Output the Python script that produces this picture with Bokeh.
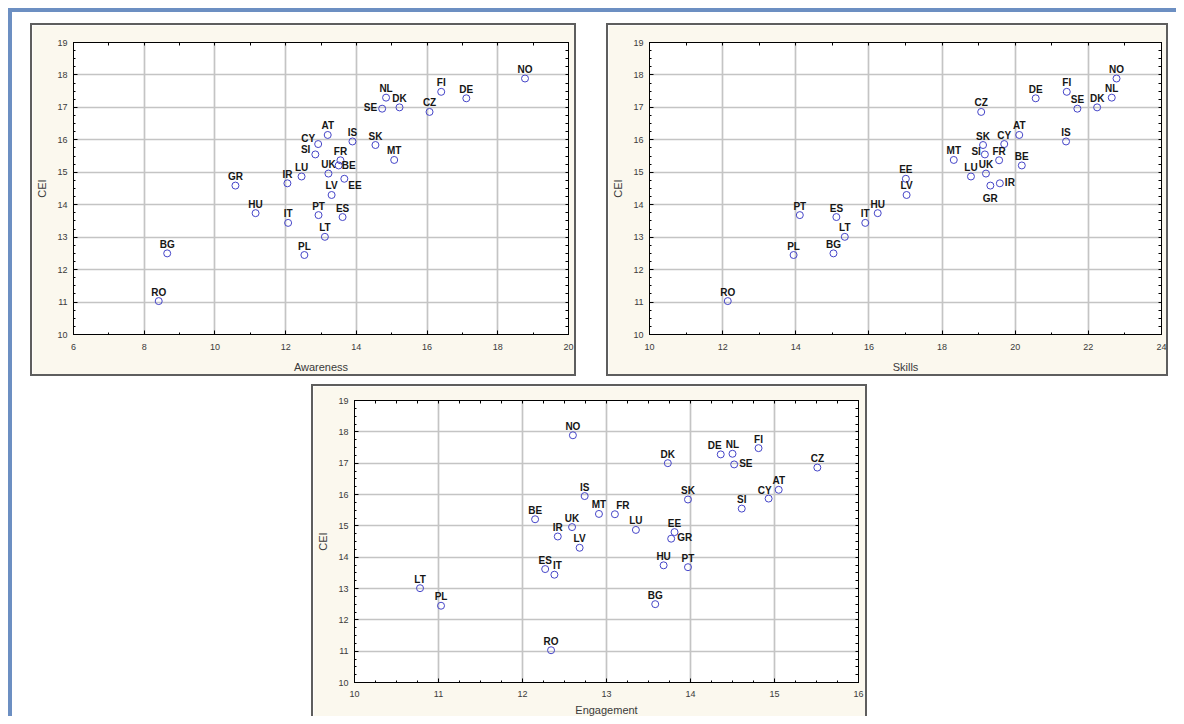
import numpy as np
from bokeh.plotting import figure
from bokeh.models import (ColumnDataSource, LinearAxis, SingleIntervalTicker, FixedTicker,
                          Range1d, Grid)
from bokeh.layouts import row, column
from bokeh.embed import file_html
from bokeh.resources import INLINE
from bokeh.core.properties import value

# ---------------- data ----------------
countries = ["NO", "FI", "DE", "NL", "DK", "SE", "CZ", "AT", "IS", "CY", "SK", "SI", "FR", "MT", "BE",
             "LU", "UK", "EE", "IR", "GR", "LV", "HU", "PT", "ES", "IT", "LT", "PL", "BG", "RO"]
cei = [17.89, 17.48, 17.28, 17.30, 17.00, 16.96, 16.86, 16.15, 15.95, 15.87, 15.84, 15.55, 15.37, 15.38, 15.21,
       14.87, 14.96, 14.80, 14.66, 14.59, 14.30, 13.74, 13.68, 13.62, 13.44, 13.01, 12.45, 12.50, 11.03]
awareness = [18.77, 16.40, 17.11, 14.84, 15.22, 14.73, 16.07, 13.19, 13.89, 12.92, 14.54, 12.84, 13.55, 15.07, 13.50,
             12.45, 13.21, 13.66, 12.05, 10.58, 13.30, 11.15, 12.93, 13.61, 12.07, 13.11, 12.53, 8.65, 8.41]
skills = [22.77, 21.41, 20.56, 22.64, 22.24, 21.70, 19.07, 20.11, 21.39, 19.70, 19.12, 19.17, 19.56, 18.32, 20.18,
          18.79, 19.20, 17.01, 19.58, 19.32, 17.03, 16.24, 14.11, 15.11, 15.90, 15.34, 13.94, 15.03, 12.14]
engagement = [12.60, 14.81, 14.36, 14.50, 13.73, 14.52, 15.51, 15.05, 12.74, 14.93, 13.97, 14.61, 13.10, 12.91, 12.15,
              13.35, 12.59, 13.81, 12.42, 13.77, 12.68, 13.68, 13.97, 12.27, 12.38, 10.78, 11.03, 13.58, 12.34]
y_label = "CEI"

# ---------------- label placement (style) ----------------
DEFAULT = ("center", "middle", 0, -9)
aw_place = {"SE": ("right", "middle", -5, -1), "CY": ("right", "middle", -3, -6),
            "SI": ("right", "middle", -5, -5), "BE": ("left", "middle", 3, 0),
            "EE": ("left", "middle", 4, 7)}
sk_place = {"SI": ("right", "middle", -4, -3), "IR": ("left", "middle", 5, -1),
            "GR": ("center", "middle", 0, 13)}
en_place = {"DE": ("center", "middle", -6, -9), "SE": ("left", "middle", 5, -1),
            "CY": ("center", "middle", -4, -8), "FR": ("center", "middle", 8, -9),
            "GR": ("left", "middle", 6, -1), "IT": ("center", "middle", 3, -9)}

BEIGE = "#fbf8ee"
FONT = "Liberation Sans"
TICK_COLOR = "#3a3a3a"


def make_panel(xvals, xname, xr, x_int, x_minor, place, w, h, mb, styles, xstand, xlab_stand):
    p = figure(width=w, height=h, output_backend="svg", toolbar_location=None,
               x_range=Range1d(*xr), y_range=Range1d(10, 19),
               x_axis_type=None, y_axis_type=None,
               min_border_left=mb[0], min_border_top=mb[1],
               min_border_right=mb[2], min_border_bottom=mb[3])
    p.background_fill_color = "white"
    p.border_fill_color = BEIGE
    p.outline_line_color = "black"
    p.outline_line_width = 1
    p.styles = styles

    xt = SingleIntervalTicker(interval=x_int, num_minor_ticks=x_minor)
    yt = SingleIntervalTicker(interval=1, num_minor_ticks=4)

    p.add_layout(Grid(dimension=0, ticker=xt, grid_line_color="#c4c4c4", grid_line_width=1.7))
    p.add_layout(Grid(dimension=1, ticker=yt, grid_line_color="#c4c4c4", grid_line_width=1.7))

    def base_axis(ax):
        ax.axis_line_color = "black"
        ax.axis_line_width = 1
        ax.major_tick_in = 4
        ax.major_tick_out = 0
        ax.minor_tick_in = 2
        ax.minor_tick_out = 0
        ax.major_tick_line_color = "black"
        ax.minor_tick_line_color = "black"

    def label_axis(ax, standoff, lab_standoff):
        ax.major_label_text_font = FONT
        ax.major_label_text_font_size = "9px"
        ax.major_label_text_color = TICK_COLOR
        ax.major_label_standoff = standoff
        ax.axis_label_text_font = FONT
        ax.axis_label_text_font_size = "11px"
        ax.axis_label_text_font_style = "normal"
        ax.axis_label_text_color = TICK_COLOR
        ax.axis_label_standoff = lab_standoff

    xb = LinearAxis(ticker=xt, axis_label=xname)
    base_axis(xb)
    label_axis(xb, xstand, xlab_stand)
    p.add_layout(xb, "below")

    yl = LinearAxis(ticker=yt, axis_label=y_label)
    base_axis(yl)
    label_axis(yl, 6, 6)
    p.add_layout(yl, "left")

    # top / right frame ticks (no labels)
    step = x_int / x_minor
    top_ticks = [float(v) for v in np.arange(xr[0], xr[1] + 1e-9, step)]
    right_ticks = [float(v) for v in np.arange(10, 19 + 1e-9, 0.25)]
    xa = LinearAxis(ticker=FixedTicker(ticks=[], minor_ticks=top_ticks))
    base_axis(xa)
    xa.minor_tick_in = 3
    p.add_layout(xa, "above")
    yr = LinearAxis(ticker=FixedTicker(ticks=[], minor_ticks=right_ticks))
    base_axis(yr)
    yr.minor_tick_in = 3
    p.add_layout(yr, "right")

    pl = [place.get(c, DEFAULT) for c in countries]
    src = ColumnDataSource(dict(x=xvals, y=cei, name=countries,
                                talign=[a[0] for a in pl], tbase=[a[1] for a in pl],
                                dx=[a[2] for a in pl], dy=[a[3] for a in pl]))
    p.scatter(x="x", y="y", source=src, marker="circle", size=7, fill_color=None,
              line_color="#4545c8", line_width=1)
    p.text(x="x", y="y", text="name", source=src, text_align="talign", text_baseline="tbase",
           x_offset="dx", y_offset="dy", text_font=value(FONT), text_font_size="10px",
           text_font_style="bold", text_color="#161616")
    return p


box_border = "2px solid #5e5e5e"
p1 = make_panel(awareness, "Awareness", (6, 20), 2, 2, aw_place, 546, 353, (41, 13, 10, 40),
                {"border": box_border}, 9, 8)
p2 = make_panel(skills, "Skills", (10, 24), 2, 2, sk_place, 562, 353, (41, 17, 9, 44),
                {"border": box_border}, 9, 8)
p3 = make_panel(engagement, "Engagement", (10, 16), 1, 4, en_place, 556, 332, (41, 14, 11, 33),
                {"border-top": box_border, "border-left": box_border, "border-right": box_border}, 8, 4)

p1.margin = (11, 0, 0, 18)
p2.margin = (11, 8, 0, 30)
p3.margin = (8, 0, 0, 299)

layout = column(row(p1, p2), row(p3),
                styles={"border-top": "4px solid #6c8fc2", "border-left": "4px solid #6c8fc2"})
layout.margin = (8, 0, 0, 8)

open("out.html", "w").write(file_html(layout, INLINE))
